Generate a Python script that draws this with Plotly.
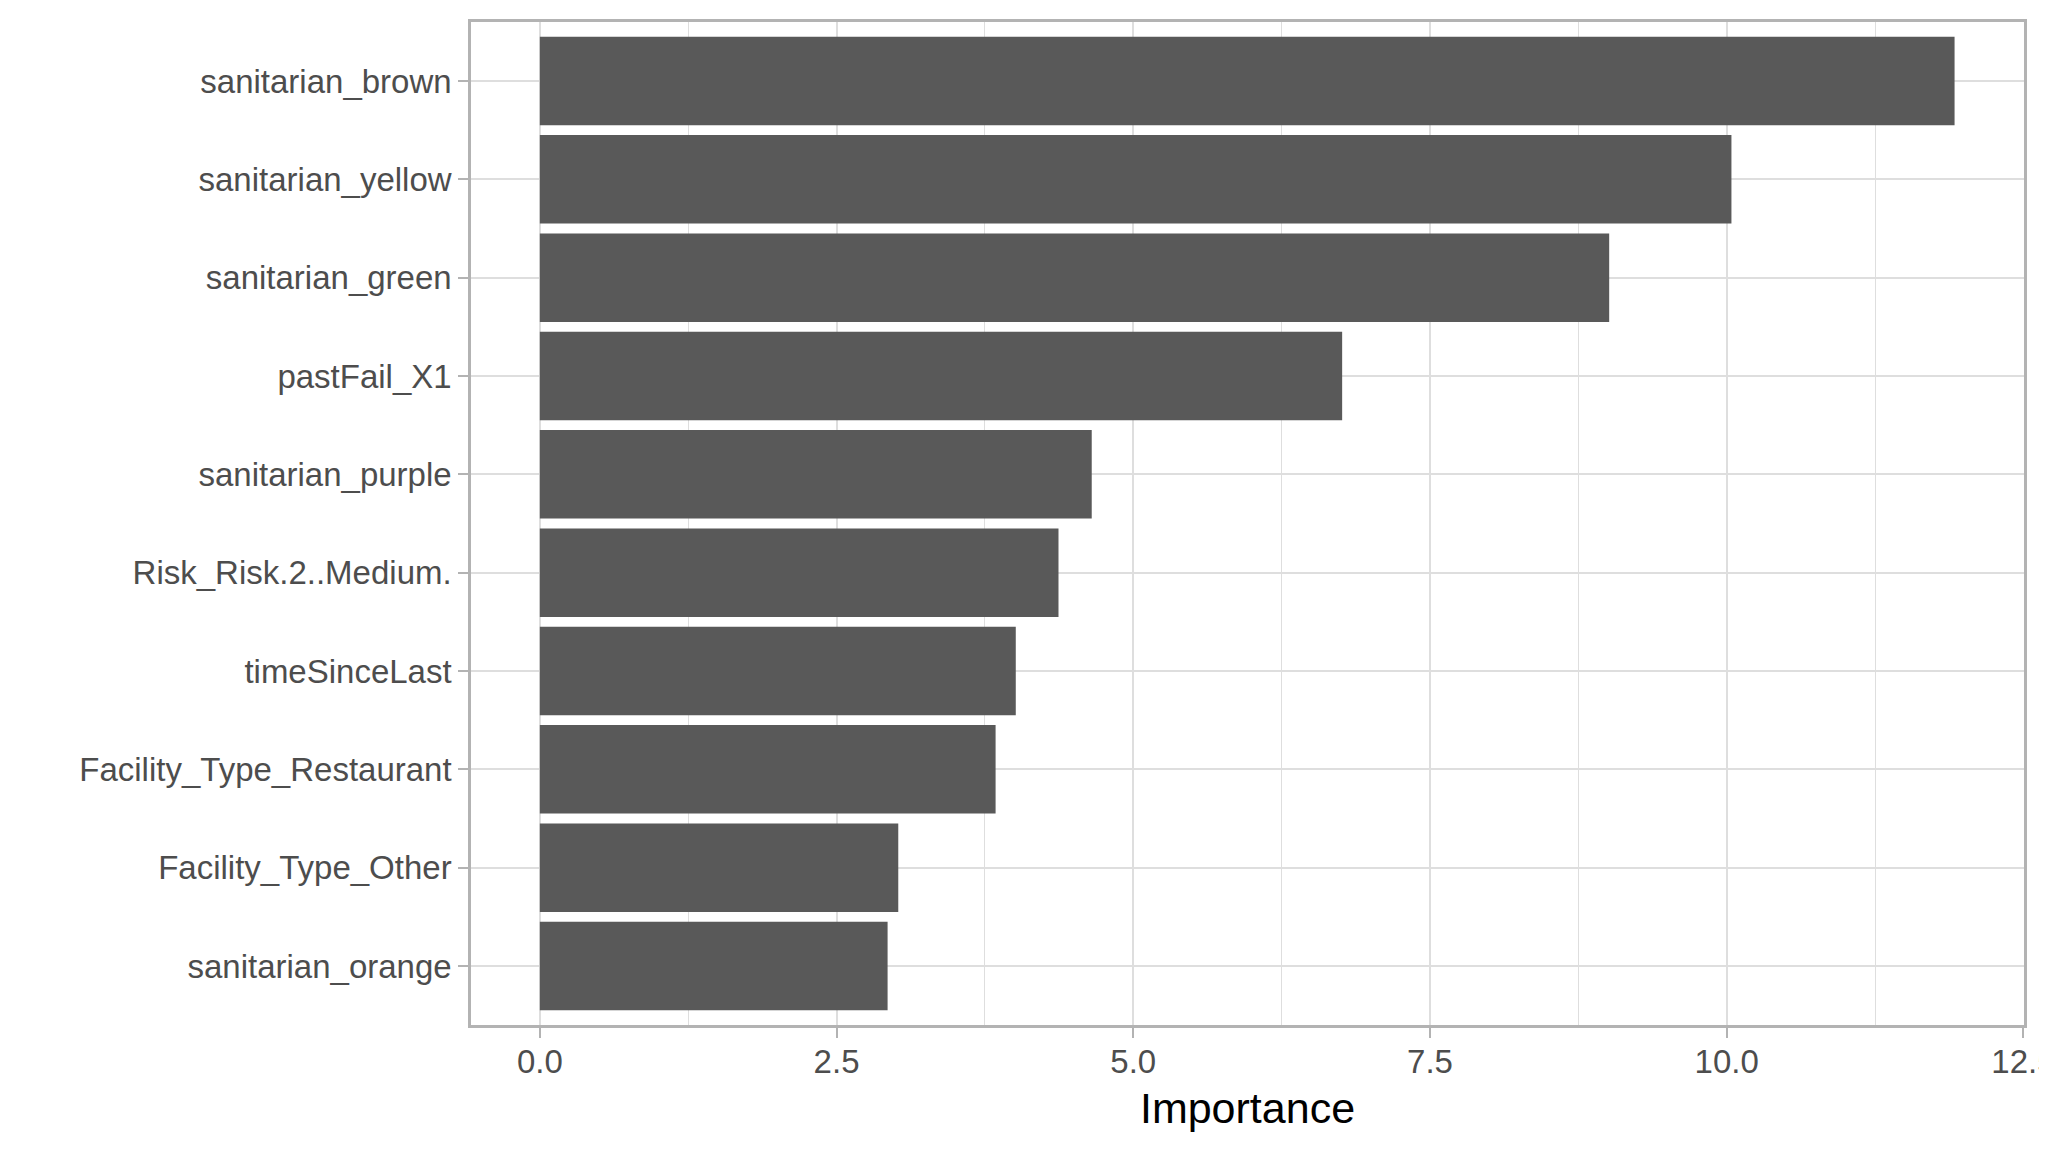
import plotly.graph_objects as go

features = [
    "sanitarian_brown",
    "sanitarian_yellow",
    "sanitarian_green",
    "pastFail_X1",
    "sanitarian_purple",
    "Risk_Risk.2..Medium.",
    "timeSinceLast",
    "Facility_Type_Restaurant",
    "Facility_Type_Other",
    "sanitarian_orange",
]
importance = [11.92, 10.04, 9.01, 6.76, 4.65, 4.37, 4.01, 3.84, 3.02, 2.93]

x_ticks = [0, 2.5, 5, 7.5, 10, 12.5]
x_tick_labels = ["0.0", "2.5", "5.0", "7.5", "10.0", "12.5"]

FONT = "Liberation Sans, Arial, sans-serif"
GRID = "#DEDEDE"
BORDER = "#B3B3B3"

fig = go.Figure(
    go.Bar(
        x=importance,
        y=features,
        orientation="h",
        marker=dict(color="#595959", line=dict(width=0)),
        width=0.9,
    )
)

fig.update_layout(
    width=2047,
    height=1152,
    margin=dict(l=463, r=31, t=14, b=135),
    paper_bgcolor="white",
    plot_bgcolor="white",
    showlegend=False,
    font=dict(family=FONT, size=33, color="#4D4D4D"),
)

fig.update_xaxes(
    automargin=False,
    range=[-0.58, 12.505],
    tickmode="array",
    tickvals=x_ticks,
    ticktext=x_tick_labels,
    tickfont=dict(family=FONT, size=33, color="#4D4D4D"),
    ticks="outside",
    ticklen=10,
    tickwidth=1.5,
    tickcolor=BORDER,
    ticklabelstandoff=-4,
    ticklabeloverflow="allow",
    showgrid=True,
    gridcolor=GRID,
    gridwidth=1.8,
    minor=dict(dtick=1.25, tick0=0, showgrid=True, gridcolor=GRID, gridwidth=1),
    zeroline=False,
    showline=True,
    linecolor=BORDER,
    linewidth=2.5,
    mirror=True,
    title=dict(text="Importance", font=dict(family=FONT, size=43, color="black"), standoff=14),
)

fig.update_yaxes(
    automargin=False,
    type="category",
    categoryorder="array",
    categoryarray=features[::-1],
    range=[-0.6, len(features) - 0.4],
    tickfont=dict(family=FONT, size=33, color="#4D4D4D"),
    ticks="outside",
    ticklen=10,
    tickwidth=1.5,
    tickcolor=BORDER,
    showgrid=True,
    gridcolor=GRID,
    gridwidth=1.8,
    zeroline=False,
    showline=True,
    linecolor=BORDER,
    linewidth=2.5,
    mirror=True,
)

fig.write_html("out.html")
